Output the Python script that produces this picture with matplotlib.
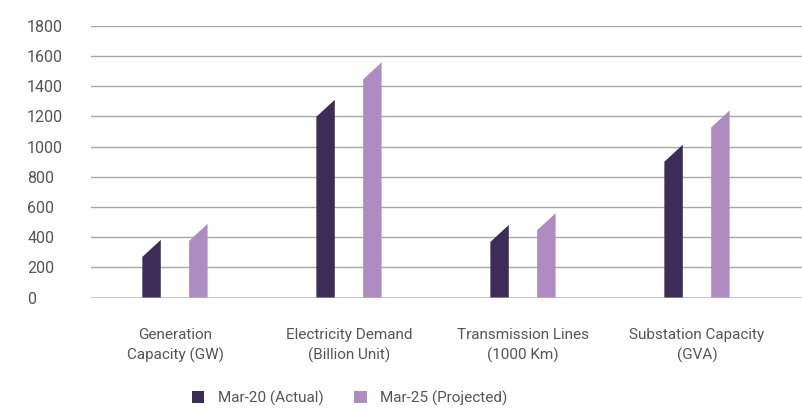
import matplotlib
matplotlib.use("Agg")
import matplotlib.pyplot as plt
from matplotlib.patches import Polygon, Patch
from matplotlib import font_manager

# ---- data ----
categories = ["Generation\nCapacity (GW)", "Electricity Demand\n(Billion Unit)",
              "Transmission Lines\n(1000 Km)", "Substation Capacity\n(GVA)"]
series_names = ["Mar-20 (Actual)", "Mar-25 (Projected)"]
mar20 = [382, 1311, 481, 1013]
mar25 = [488, 1559, 559, 1240]
yticks = [0, 200, 400, 600, 800, 1000, 1200, 1400, 1600, 1800]

# ---- style ----
colors = ["#3d2c58", "#ae8bc1"]
text_color = "#555555"
avail = {f.name for f in font_manager.fontManager.ttflist}
fam = [f for f in ["Roboto", "DejaVu Sans"] if f in avail]
plt.rcParams["font.family"] = fam

fig = plt.figure(figsize=(8.02, 4.11), dpi=100)
ax = fig.add_axes([91 / 802, (411 - 297.5) / 411, 1 - 91 / 802, (297.5 - 26) / 411])

ax.set_ylim(0, 1800)
ax.set_xlim(-0.483, 3.603)

bar_w = 0.106
offsets = [-0.135, 0.134]
cut = 113  # slanted-top depth in data units

for s, vals in enumerate([mar20, mar25]):
    for i, v in enumerate(vals):
        xc = i + offsets[s]
        x0, x1 = xc - bar_w / 2, xc + bar_w / 2
        poly = Polygon([(x0, 0), (x1, 0), (x1, v), (x0, v - cut)],
                       closed=True, facecolor=colors[s], edgecolor="none", zorder=3)
        ax.add_patch(poly)

ax.set_yticks(yticks)
ax.set_yticklabels([str(t) for t in yticks])
ax.yaxis.grid(True, color="#a8a8a8", linewidth=1.0, zorder=0)
ax.axhline(0, color="#c4c4c4", linewidth=2, zorder=2)
for sp in ax.spines.values():
    sp.set_visible(False)

ax.set_xticks(range(len(categories)))
ax.set_xticklabels(categories, fontsize=11, color=text_color, linespacing=1.5)
ax.tick_params(axis="x", length=0, pad=22)
ax.tick_params(axis="y", length=0, pad=46, labelsize=11.5, labelcolor=text_color)
for lab in ax.get_yticklabels():
    lab.set_horizontalalignment("left")

handles = [Patch(facecolor=colors[0], label=series_names[0]),
           Patch(facecolor=colors[1], label=series_names[1])]
fig.legend(handles=handles, loc="center", bbox_to_anchor=(350 / 802, 1 - 398 / 411),
           ncol=2, frameon=False, fontsize=11, labelcolor=text_color,
           handlelength=0.8, handleheight=0.8, handletextpad=0.9, columnspacing=2.0)

fig.savefig("out.png", dpi=100)
